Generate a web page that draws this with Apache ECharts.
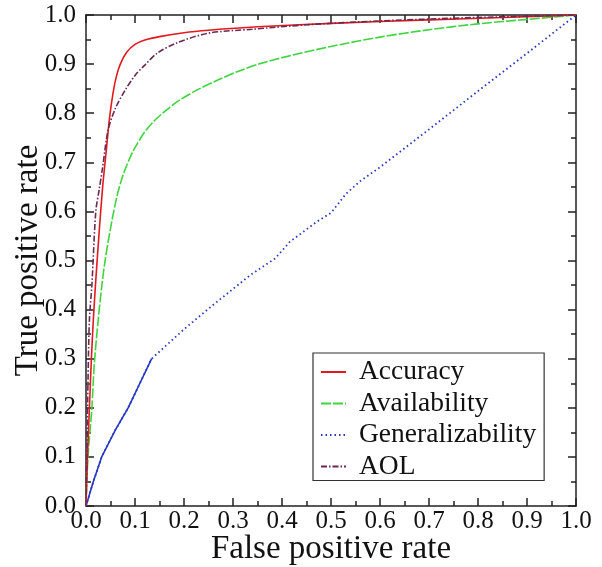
<!DOCTYPE html>
<html>
<head>
<meta charset="utf-8">
<script src="https://cdn.jsdelivr.net/npm/echarts@6/dist/echarts.min.js"></script>
<style>
html,body{margin:0;padding:0;background:#fff;}
#chart{width:602px;height:567px;}
</style>
</head>
<body>
<div id="chart"></div>
<script>
const seriesNames = ['Accuracy', 'Availability', 'Generalizability', 'AOL'];
const tickValues = [0, 0.1, 0.2, 0.3, 0.4, 0.5, 0.6, 0.7, 0.8, 0.9, 1.0];

const accX = [0, 0.003, 0.007, 0.011, 0.015, 0.02, 0.027, 0.034, 0.041, 0.048, 0.055, 0.062, 0.07, 0.083, 0.1, 0.12, 0.15, 0.2, 0.25, 0.35, 0.5, 0.7, 0.85, 1.0];
const accY = [0, 0.1, 0.2, 0.3, 0.38, 0.46, 0.56, 0.65, 0.72, 0.79, 0.84, 0.875, 0.9, 0.924, 0.94, 0.949, 0.956, 0.964, 0.969, 0.976, 0.983, 0.99, 0.995, 1.0];

const avaX = [0, 0.004, 0.012, 0.017, 0.025, 0.032, 0.039, 0.049, 0.063, 0.076, 0.09, 0.1, 0.12, 0.14, 0.16, 0.19, 0.23, 0.27, 0.31, 0.355, 0.42, 0.5, 0.6, 0.7, 0.8, 0.9, 1.0];
const avaY = [0, 0.1, 0.2, 0.29, 0.38, 0.446, 0.5, 0.56, 0.63, 0.675, 0.71, 0.73, 0.762, 0.785, 0.803, 0.826, 0.849, 0.868, 0.885, 0.901, 0.918, 0.936, 0.955, 0.97, 0.982, 0.991, 1.0];

const genX = [0, 0.015, 0.032, 0.06, 0.086, 0.11, 0.134, 0.2, 0.26, 0.335, 0.386, 0.416, 0.471, 0.5, 0.53, 0.56, 0.6, 0.7, 0.8, 0.9, 1.0];
const genY = [0, 0.05, 0.1, 0.155, 0.2, 0.25, 0.3, 0.36, 0.41, 0.47, 0.504, 0.538, 0.579, 0.597, 0.635, 0.662, 0.69, 0.767, 0.845, 0.922, 1.0];
const genSolidCount = 7; // first segment drawn solid in the reference

const aolX = [0, 0.002, 0.004, 0.007, 0.012, 0.02, 0.027, 0.034, 0.045, 0.06, 0.08, 0.1, 0.12, 0.145, 0.185, 0.25, 0.34, 0.45, 0.6, 0.8, 1.0];
const aolY = [0, 0.12, 0.25, 0.38, 0.45, 0.6, 0.645, 0.69, 0.765, 0.81, 0.847, 0.877, 0.898, 0.922, 0.943, 0.963, 0.971, 0.98, 0.988, 0.995, 1.0];

function pairs(xs, ys) { return xs.map((x, i) => [x, ys[i]]); }

const FONT = 'Liberation Serif';
const AXC = '#222';

function axisBase(pos, showLabel, extra) {
  return Object.assign({
    type: 'value', min: 0, max: 1, interval: 0.1, position: pos,
    axisLine: { show: true, onZero: false, lineStyle: { color: AXC, width: 1.5 } },
    axisTick: { show: true, inside: true, length: 8, lineStyle: { color: AXC, width: 1.5 } },
    minorTick: { show: true, splitNumber: 2, length: 5, lineStyle: { color: AXC, width: 1.5 } },
    splitLine: { show: false },
    axisLabel: { show: showLabel }
  }, extra || {});
}

const chart = echarts.init(document.getElementById('chart'), null, { renderer: 'canvas' });
chart.setOption({
  backgroundColor: '#fff',
  animation: false,
  grid: { left: 86, right: 26, top: 15, bottom: 61, containLabel: false, outerBoundsMode: 'none' },
  xAxis: [
    axisBase('bottom', true, {
      name: 'False positive rate', nameLocation: 'middle', nameGap: 27, nameMoveOverlap: false,
      nameTextStyle: { fontFamily: FONT, fontSize: 33, color: '#111' },
      axisLabel: { show: true, fontFamily: FONT, fontSize: 25, color: '#111', margin: 3, formatter: v => v.toFixed(1) }
    }),
    axisBase('top', false)
  ],
  yAxis: [
    axisBase('left', true, {
      name: 'True positive rate', nameLocation: 'middle', nameGap: 41, nameMoveOverlap: false,
      nameTextStyle: { fontFamily: FONT, fontSize: 33, color: '#111' },
      axisLabel: { show: true, fontFamily: FONT, fontSize: 25, color: '#111', margin: 10, formatter: v => v.toFixed(1) }
    }),
    axisBase('right', false)
  ],
  legend: {
    data: seriesNames,
    orient: 'vertical',
    left: 313, top: 353,
    itemWidth: 25, itemHeight: 14, itemGap: 3.5,
    padding: [5, 8, 0, 7],
    borderColor: '#333', borderWidth: 1.2,
    backgroundColor: '#fff',
    itemStyle: { opacity: 0 },
    textStyle: { fontFamily: FONT, fontSize: 27.5, color: '#111', lineHeight: 26, padding: [0, 0, 0, 8] }
  },
  series: [
    {
      name: seriesNames[0], type: 'line', data: pairs(accX, accY), symbol: 'none', smooth: 0.3,
      lineStyle: { color: '#e3191e', width: 1.6, type: 'solid' }, itemStyle: { color: '#e3191e' }, z: 4
    },
    {
      name: seriesNames[1], type: 'line', data: pairs(avaX, avaY), symbol: 'none', smooth: 0.3,
      lineStyle: { color: '#3ed43e', width: 1.6, type: [10, 2] }, itemStyle: { color: '#3ed43e' }, z: 3
    },
    {
      name: seriesNames[2], type: 'line', data: pairs(genX, genY), symbol: 'none',
      lineStyle: { color: '#2436c4', width: 1.8, type: [1.5, 3] }, itemStyle: { color: '#2436c4' }, z: 2
    },
    {
      name: seriesNames[2], type: 'line', data: pairs(genX.slice(0, genSolidCount), genY.slice(0, genSolidCount)), symbol: 'none',
      lineStyle: { color: '#2436c4', width: 1.6, type: 'solid' }, itemStyle: { color: '#2436c4' }, z: 2
    },
    {
      name: seriesNames[3], type: 'line', data: pairs(aolX, aolY), symbol: 'none', smooth: 0.3,
      lineStyle: { color: '#6b2850', width: 1.6, type: [6, 2, 1.5, 2] }, itemStyle: { color: '#6b2850' }, z: 5
    }
  ]
});
</script>
</body>
</html>
